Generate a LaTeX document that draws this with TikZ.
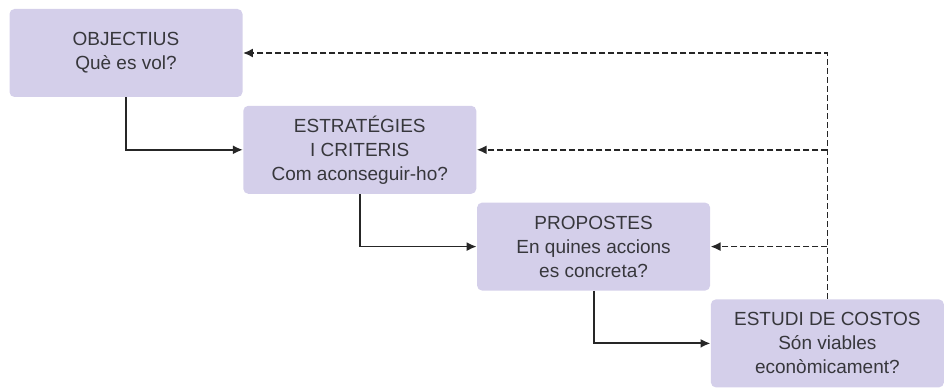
\documentclass[tikz,border=0pt]{standalone}
\usepackage{fontspec}
\setmainfont{Liberation Sans}
\usepackage{xcolor}
\usetikzlibrary{positioning, arrows.meta}
\definecolor{boxfill}{RGB}{212,207,234}
\definecolor{boxtext}{RGB}{55,55,60}

\begin{document}
\begin{tikzpicture}[
	stage/.style={rectangle, fill=boxfill, rounded corners=2.5pt, minimum height=44pt, minimum width=116.5pt, align=center, text=boxtext, font=\fontsize{9.5}{12}\selectfont, inner sep=1pt},
	flow/.style={->, line width=0.9pt, draw=black!85},
	back/.style={->, line width=0.9pt, draw=black!85, dash pattern=on 3pt off 1.5pt},
	>={Latex[length=5pt,width=4.5pt]},
	]
	\useasboundingbox (0,0) rectangle (475pt,-195pt);
		%Nodes
    \node[stage]        (obj)   at (63pt,-26.5pt)                {OBJECTIUS\\Què es vol?};
    \node[stage]        (strat) [below right=4pt and 0pt of obj]  {ESTRATÉGIES\\I CRITERIS\\Com aconseguir-ho?};
    \node[stage]        (prop)  [below right=4pt and 0pt of strat] {PROPOSTES\\En quines accions\\es concreta?};
    \node[stage]        (cost)  [below right=4pt and 0pt of prop]  {ESTUDI DE COSTOS\\Són viables\\econòmicament?};
    \coordinate         (ret)   at (cost.north |- obj.east);

		%Lines
		\draw[flow] (obj.south) |- (strat.west);
		\draw[flow] (strat.south) |- (prop.west);
		\draw[flow] (prop.south) |- (cost.west);
		\draw[back] (cost.north) -- (ret) -- (obj.east);
		\draw[back] (cost.north |- strat.east) -- (strat.east);
		\draw[back] (cost.north |- prop.east) -- (prop.east);
	\end{tikzpicture}
\end{document}
